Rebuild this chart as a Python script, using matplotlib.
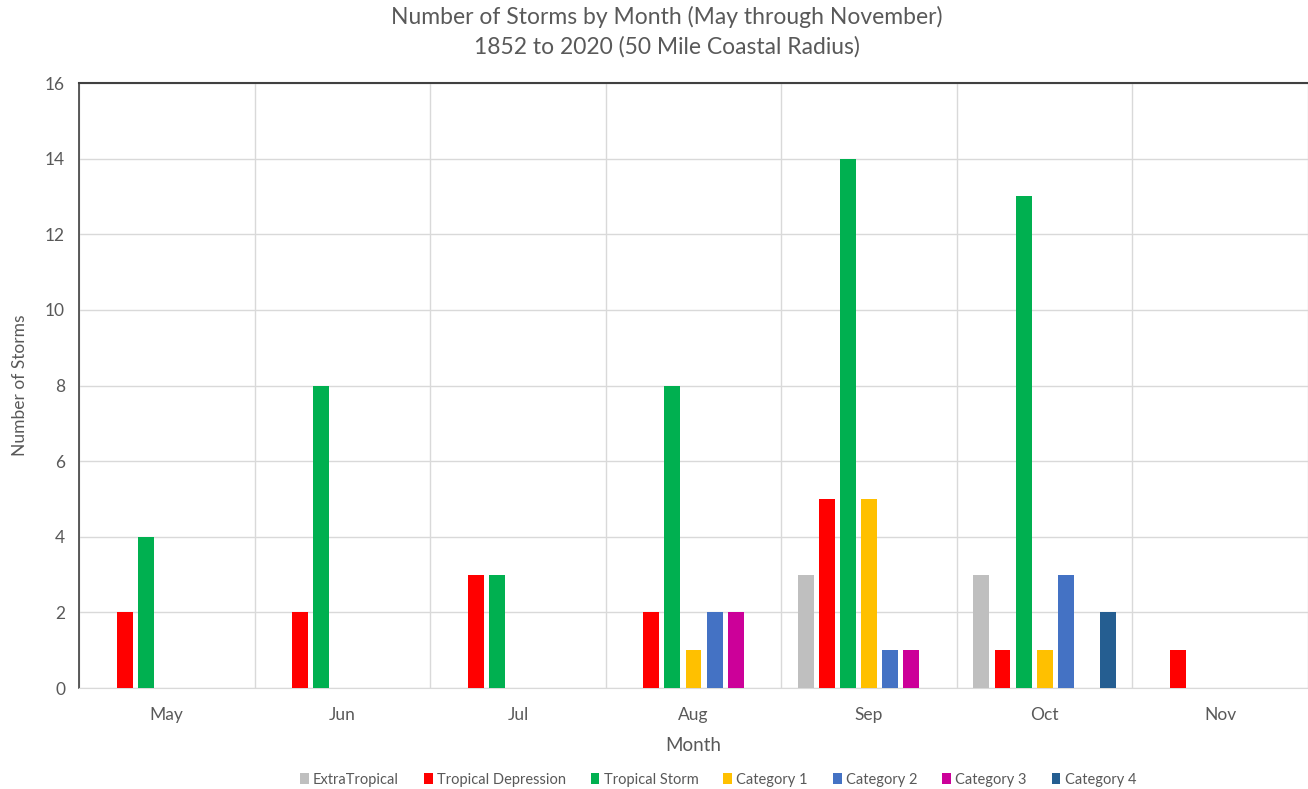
import numpy as np
import matplotlib
matplotlib.use("Agg")
import matplotlib.pyplot as plt

# --- DATA ---
months = ["May", "Jun", "Jul", "Aug", "Sep", "Oct", "Nov"]
series_names = ["ExtraTropical", "Tropical Depression", "Tropical Storm",
                "Category 1", "Category 2", "Category 3", "Category 4"]
extratropical = [0, 0, 0, 0, 3, 3, 0]
tropical_depression = [2, 2, 3, 2, 5, 1, 1]
tropical_storm = [4, 8, 3, 8, 14, 13, 0]
category_1 = [0, 0, 0, 1, 5, 1, 0]
category_2 = [0, 0, 0, 2, 1, 3, 0]
category_3 = [0, 0, 0, 2, 1, 0, 0]
category_4 = [0, 0, 0, 0, 0, 2, 0]
y_ticks = [0, 2, 4, 6, 8, 10, 12, 14, 16]

# --- STYLE ---
colors = ["#BFBFBF", "#FF0000", "#00B050", "#FFC000", "#4472C4", "#CC0099", "#255E91"]
TEXT = "#595959"
GRID = "#D9D9D9"
plt.rcParams['font.family'] = ['Lato', 'DejaVu Sans']

series = [extratropical, tropical_depression, tropical_storm,
          category_1, category_2, category_3, category_4]

fig = plt.figure(figsize=(13.08, 7.89), dpi=100)
ax = fig.add_axes([0.0604, 0.128, 0.9396, 0.7668])

x = np.arange(len(months))
step = 0.12
width = 0.091
n = len(series)
for i, (name, vals, col) in enumerate(zip(series_names, series, colors)):
    offset = (i - (n - 1) / 2) * step
    ax.bar(x + offset, vals, width=width, color=col, label=name, zorder=3)

ax.set_xlim(-0.5, len(months) - 0.5)
ax.set_ylim(0, 16)
ax.set_yticks(y_ticks)
ax.set_xticks(x)
ax.set_xticklabels(months)
ax.set_xticks(np.arange(-0.5, len(months) + 0.5, 1), minor=True)

ax.grid(axis="y", which="major", color=GRID, linewidth=1, zorder=0)
ax.grid(axis="x", which="minor", color=GRID, linewidth=1, zorder=0)
ax.tick_params(axis="both", which="both", length=0, colors=TEXT, labelsize=12.5)
ax.tick_params(axis="x", pad=14)
ax.tick_params(axis="y", pad=10)

ax.spines["right"].set_visible(False)
ax.spines["bottom"].set_color(GRID)
ax.spines["left"].set_color("#404040")
ax.spines["top"].set_color("#404040")
ax.spines["left"].set_linewidth(1.2)
ax.spines["top"].set_linewidth(1.5)

ax.set_xlabel("Month", fontsize=13.5, color=TEXT, labelpad=10)
ax.set_ylabel("Number of Storms", fontsize=12.5, color=TEXT, labelpad=12)

fig.text(0.510, 0.992, "Number of Storms by Month (May through November)",
         ha="center", va="top", fontsize=16.5, color=TEXT)
fig.text(0.510, 0.954, "1852 to 2020 (50 Mile Coastal Radius)",
         ha="center", va="top", fontsize=16.5, color=TEXT)

fig.legend(loc="center", bbox_to_anchor=(0.549, 0.012), ncol=7, frameon=False,
           fontsize=10.5, handlelength=0.6, handleheight=0.8, handletextpad=0.3,
           columnspacing=1.7, labelcolor=TEXT)

fig.savefig("out.png", dpi=100)
